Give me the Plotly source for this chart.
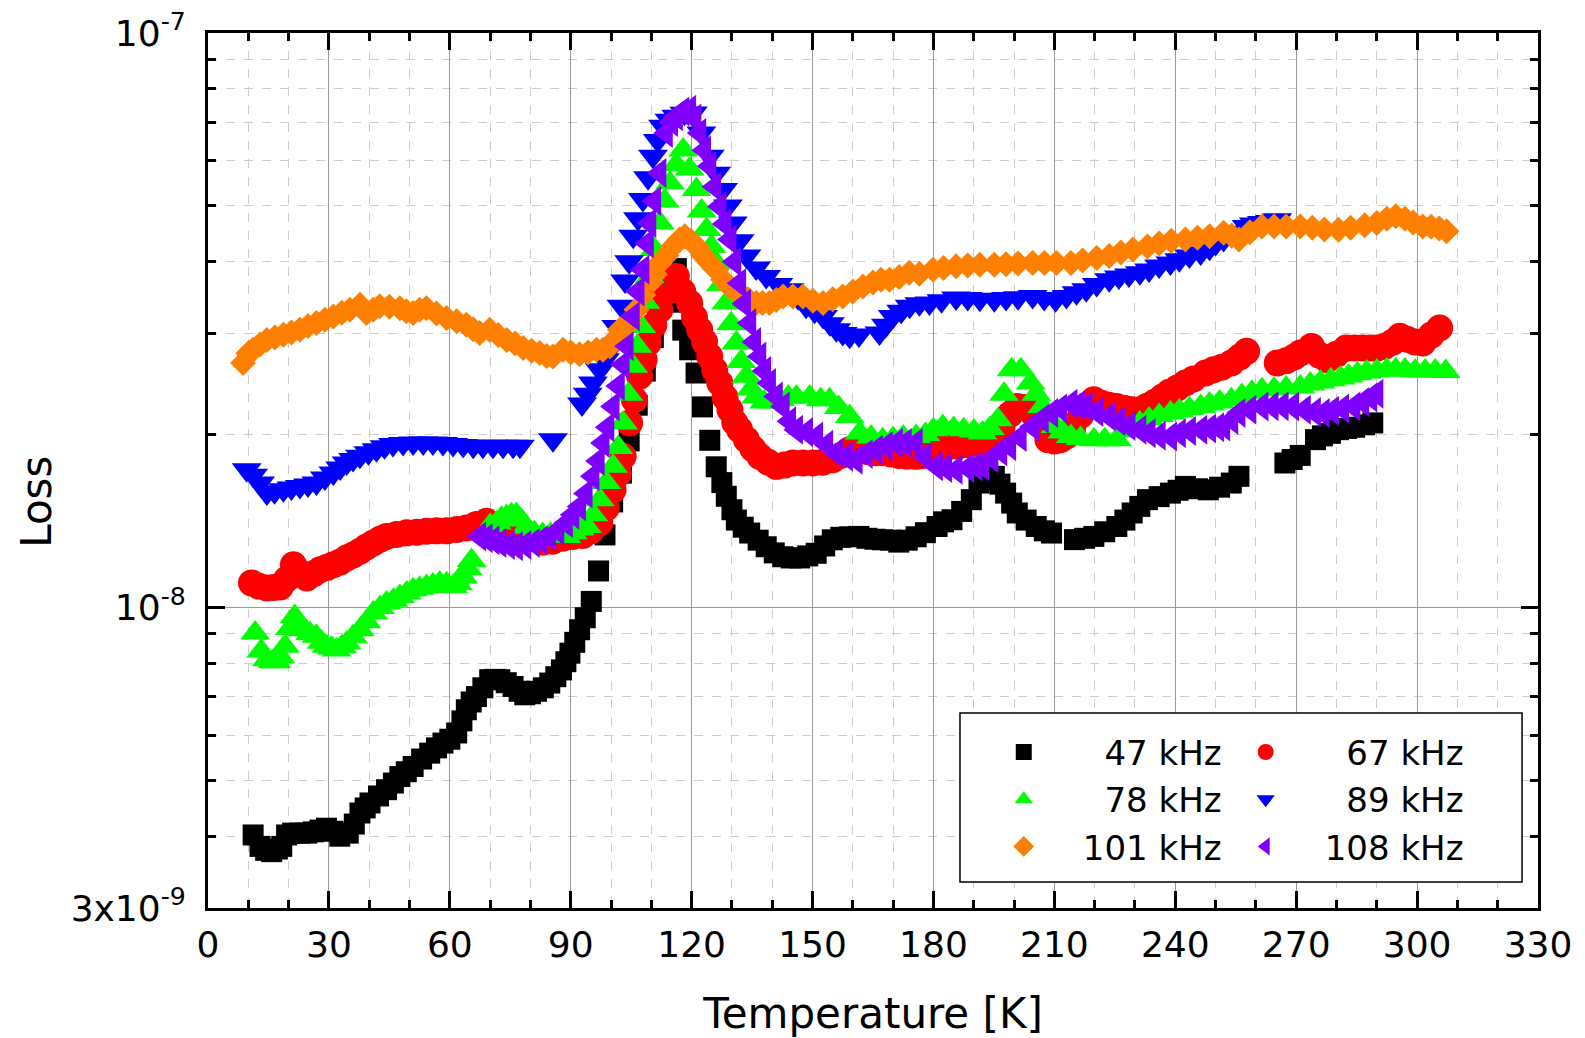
import numpy as np
import plotly.graph_objects as go

# ---------------- data (Temperature in K, Loss in units of 1e-9) ----------------
names = ["\u200747 kHz", "\u200767 kHz", "\u200778 kHz", "\u200789 kHz", "101 kHz", "108 kHz"]
colors = ["#000000", "#FF0000", "#00FF00", "#0000FF", "#FF8000", "#8000FF"]
symbols = ["square", "circle", "triangle-up", "triangle-down", "diamond", "triangle-left"]
sizes = [21, 27, 26, 26, 20, 26]
legend_cols = ["legend", "legend2", "legend", "legend2", "legend", "legend2"]

T47 = [11.2, 12.9, 14.3, 15.8, 17.2, 18.3, 19.5, 21.0, 22.8, 24.5, 26.1, 27.8, 29.4, 31.0, 32.7, 34.8,
       36.3, 37.7, 39.0, 40.2, 42.3, 44.3, 46.0, 47.6, 49.2, 50.9, 53.0, 55.0, 56.7, 58.3, 60.0, 61.7,
       63.0, 64.1, 65.3, 66.6, 68.2, 69.9, 71.2, 72.4, 74.0, 75.7, 77.2, 78.6, 80.0, 81.5, 83.2, 84.8,
       86.3, 87.7, 88.8, 89.8, 91.0, 92.2, 93.6, 95.1, 96.9, 98.5, 100.4, 102.6, 104.5, 106.5, 108.5,
       110.5, 112.5, 114.5, 116.2, 117.0, 117.8, 119.5, 121.1, 122.7, 124.5, 126.1, 127.5, 128.6, 130.0,
       131.1, 132.8, 134.4, 136.5, 138.5, 140.5, 142.6, 144.7, 146.8, 148.8, 150.9, 153.0, 154.9, 157.0,
       159.2, 161.5, 163.5, 165.5, 167.4, 169.4, 171.4, 173.5, 175.7, 178.0, 180.9, 182.5, 184.6, 187.0,
       189.4, 191.3, 193.2, 195.1, 196.5, 197.9, 199.4, 200.8, 203.0, 205.5, 207.5, 209.3, 215.0, 217.5,
       219.8, 222.5, 225.5, 227.5, 229.3, 231.2, 233.1, 236.0, 238.8, 240.7, 242.5, 245.5, 248.2, 251.0,
       253.9, 255.8, 267.2, 269.0, 271.0, 274.8, 276.5, 278.5, 280.5, 282.5, 284.5, 287.0, 289.0]
L47 = [4.02, 3.84, 3.78, 3.76, 3.80, 3.84, 4.02, 4.05, 4.05, 4.05, 4.07, 4.10, 4.13, 4.08, 4.00, 4.05,
       4.20, 4.39, 4.48, 4.57, 4.70, 4.82, 4.95, 5.08, 5.18, 5.29, 5.45, 5.58, 5.70, 5.81, 5.90, 6.05,
       6.35, 6.64, 6.85, 7.00, 7.25, 7.49, 7.50, 7.49, 7.40, 7.29, 7.15, 7.05, 7.08, 7.15, 7.25, 7.39,
       7.58, 7.79, 8.05, 8.33, 8.70, 9.15, 9.60, 10.25, 11.58, 13.38, 15.27, 17.14, 19.5, 22.5, 25.8,
       29.5, 33.5, 37.0, 38.9, 34.0, 30.4, 28.1, 25.6, 22.35, 19.55, 17.58, 16.5, 15.62, 14.8,
       14.2, 13.8, 13.48, 13.1, 12.76, 12.45, 12.26, 12.2, 12.2, 12.3, 12.43, 12.8, 13.12, 13.25,
       13.28, 13.3, 13.2, 13.15, 13.12, 13.1, 13.0, 13.1, 13.28, 13.5, 13.84, 14.1, 14.22, 14.7,
       15.41, 16.47, 16.7, 16.92, 16.4, 15.82, 15.2, 14.61, 14.2, 13.84, 13.6, 13.48, 13.13, 13.2,
       13.3, 13.55, 13.84, 14.2, 14.61, 15.0, 15.41, 15.6, 15.82, 16.0, 16.25, 16.1, 16.03, 16.2,
       16.47, 16.92, 17.85, 18.1, 18.4, 19.6, 19.9, 20.1, 20.4, 20.5, 20.6, 20.8, 20.96]

T67 = [10.8, 12.5, 14.6, 16.3, 17.9, 19.5, 21.2, 22.8, 24.5, 26.2, 27.8, 29.5, 31.1, 32.8, 34.4, 36.0,
       37.7, 39.3, 41.0, 42.7, 44.3, 46.8, 49.3, 51.8, 54.2, 56.7, 59.2, 61.7, 64.1, 66.6, 69.1, 71.5,
       74.0, 76.5, 78.0, 80.5, 83.0, 85.5, 88.0, 90.5, 93.0, 95.0, 97.2, 98.8, 100.5, 101.8, 103.0,
       104.6, 105.8, 107.1, 108.2, 109.2, 110.6, 112.1, 113.8, 115.4, 116.2, 117.8, 119.5, 120.7,
       122.0, 123.2, 124.5, 125.7, 127.0, 128.3, 129.5, 130.7, 131.9, 133.6, 135.2, 136.9, 139.0,
       141.0, 143.0, 145.1, 147.6, 150.1, 152.5, 155.0, 157.0, 159.2, 161.5, 163.5, 165.5, 167.4,
       169.5, 171.5, 173.5, 175.7, 177.5, 180.0, 182.0, 184.0, 186.0, 188.5, 191.0, 193.2, 195.0,
       197.0, 199.0, 200.8, 202.7, 204.6, 206.5, 208.4, 210.0, 211.5, 213.0, 214.5, 216.5, 218.0,
       219.8, 221.5, 223.5, 225.5, 227.5, 229.3, 231.2, 233.0, 235.0, 236.8, 238.5, 240.5, 242.5,
       244.5, 247.5, 249.5, 251.5, 253.9, 256.0, 257.7, 265.3, 267.5, 269.5, 271.0, 273.8, 275.8,
       277.7, 280.0, 282.4, 284.5, 286.5, 288.5, 290.0, 292.0, 294.0, 295.7, 297.5, 299.5, 301.4,
       303.5, 305.6]
L67 = [11.04, 10.9, 10.82, 10.84, 10.86, 11.2, 11.87, 11.5, 11.26, 11.45, 11.64, 11.75, 11.87, 12.0,
       12.2, 12.35, 12.53, 12.75, 12.95, 13.15, 13.3, 13.4, 13.49, 13.52, 13.58, 13.6, 13.6, 13.68,
       13.76, 13.95, 14.13, 13.9, 13.6, 13.4, 13.35, 13.2, 13.0, 13.05, 13.2, 13.3, 13.35, 13.6, 14.04,
       14.9, 16.03, 17.1, 18.33, 20.96, 23.0, 25.27, 27.0, 28.87, 31.0, 33.0, 35.5, 37.2, 37.7, 35.5,
       33.9, 32.0, 30.45, 29.0, 27.36, 25.9, 24.59, 23.2, 22.1, 21.0, 20.4, 19.6, 18.9, 18.33, 17.9,
       17.61, 17.7, 17.85, 17.85, 17.85, 17.9, 18.09, 18.4, 18.83, 18.8, 18.7, 18.6, 18.6,
       18.5, 18.4, 18.35, 18.33, 18.4, 18.6, 18.9, 19.09, 19.1, 19.2, 19.3, 19.34, 19.6,
       20.5, 21.7, 22.39, 22.3, 21.81, 20.8, 19.6, 19.5, 19.6, 19.9, 20.4, 21.6, 22.5,
       23.0, 22.7, 22.5, 22.39, 22.2, 22.1, 22.1, 22.4, 22.8, 23.25, 23.7, 24.1, 24.59,
       25.0, 25.6, 25.94, 26.2, 26.65, 27.3, 27.92, 26.65, 26.9, 27.3, 27.74, 28.48, 27.5,
       27.0, 27.6, 28.29, 28.3, 28.3, 28.3, 28.29, 28.5, 29.0, 29.65, 29.3, 29.0, 28.87,
       29.8, 30.66]

T78 = [11.7, 13.2, 14.6, 16.0, 17.0, 18.0, 19.1, 20.3, 21.5, 22.5, 23.6, 25.3, 26.9, 28.2, 29.4, 30.7,
       31.9, 33.2, 34.4, 36.0, 37.7, 39.3, 41.0, 42.7, 44.3, 46.0, 47.6, 49.3, 50.9, 52.5, 54.2, 55.8,
       57.5, 59.2, 60.8, 62.0, 63.3, 64.4, 65.4, 70.0, 71.6, 72.8, 74.1, 75.3, 76.5, 77.7, 79.0, 81.0,
       83.0, 85.0, 87.0, 88.9, 90.5, 92.2, 94.0, 95.6, 97.2, 98.8, 100.5, 101.8, 103.0, 104.3, 105.5,
       106.5, 107.5, 108.5, 109.6, 110.8, 112.1, 113.3, 114.6, 116.2, 117.9, 119.5, 121.2, 122.5,
       123.7, 124.9, 126.1, 127.3, 128.6, 129.8, 131.1, 132.3, 133.6, 134.8, 136.0, 138.0, 140.0,
       142.0, 144.0, 146.0, 149.3, 152.0, 154.2, 156.5, 159.2, 161.7, 164.5, 167.4, 170.0, 172.5,
       175.7, 178.0, 180.0, 182.3, 185.0, 187.5, 190.0, 192.2, 194.0, 196.0, 197.5, 199.4, 201.7,
       204.1, 205.5, 207.0, 208.5, 210.3, 212.0, 214.1, 216.5, 219.8, 222.5, 225.5, 228.5, 231.2,
       233.5, 236.0, 238.8, 241.0, 243.5, 246.3, 248.5, 251.0, 253.9, 256.5, 259.0, 261.5, 264.5,
       267.5, 271.0, 273.5, 276.0, 278.6, 281.0, 283.0, 285.2, 287.5, 290.0, 292.5, 294.7, 297.0,
       299.5, 302.0, 304.5, 307.1]
L78 = [9.03, 8.4, 8.11, 8.05, 8.05, 8.2, 8.56, 9.2, 9.65, 9.4, 9.15, 9.0, 8.91, 8.7, 8.56, 8.5,
       8.44, 8.55, 8.68, 8.9, 9.15, 9.45, 9.78, 10.0, 10.18, 10.3, 10.45, 10.6, 10.74, 10.8, 10.88,
       10.95, 11.04, 11.0, 10.88, 11.0, 11.3, 11.7, 12.08, 13.9, 14.04, 14.3, 14.4, 14.5, 14.52, 14.2,
       13.8, 13.5, 13.4, 13.4, 13.3, 13.3, 13.5, 13.7, 13.84, 14.5, 15.41, 16.5, 17.61, 19.0, 20.96,
       23.5, 26.29, 28.5, 30.86, 34.0, 37.7, 42.0, 46.7, 51.0, 54.8, 59.0, 62.6, 58.0, 53.4, 49.0,
       45.5, 42.5, 39.8, 36.5, 33.9, 31.2, 28.87, 26.8, 25.27, 24.0, 23.25, 22.8, 22.8,
       23.0, 23.25, 23.25, 23.25, 23.0, 23.0, 22.3, 21.5, 20.13, 19.8, 19.6, 19.7, 19.8,
       19.85, 20.0, 20.4, 20.67, 20.5, 20.4, 20.3, 20.13, 20.5, 21.23, 23.5, 25.94, 25.94,
       24.59, 23.5, 22.39, 21.2, 20.67, 20.2, 19.85, 19.7, 19.6, 19.6, 19.6, 20.3, 20.96,
       21.3, 21.6, 21.81, 22.0, 22.2, 22.39, 22.6, 22.8, 23.0, 23.4, 23.7, 23.94, 24.0,
       24.1, 24.2, 24.5, 24.7, 24.91, 25.1, 25.3, 25.53, 25.7, 25.8, 25.9, 25.94, 25.9,
       25.8, 25.8, 25.8, 25.76]

T89 = [9.6, 11.2, 12.9, 14.6, 16.5, 18.7, 20.7, 22.8, 24.8, 26.9, 29.0, 31.1, 32.8, 34.4, 36.0, 37.7,
       39.8, 41.8, 43.8, 45.9, 48.4, 50.9, 53.4, 55.8, 58.3, 60.8, 63.3, 65.8, 68.2, 70.7, 73.2, 75.7,
       77.4, 85.6, 92.8, 94.2, 95.5, 97.2, 98.5, 99.7, 101.3, 102.6, 103.5, 104.5, 105.5, 106.7, 107.9,
       109.2, 110.4, 111.6, 112.9, 114.5, 116.2, 118.2, 120.3, 122.4, 124.5, 126.1, 127.8, 129.0,
       130.2, 131.9, 133.6, 136.0, 138.5, 141.5, 144.3, 146.4, 148.4, 150.5, 152.6, 154.3, 155.9,
       157.5, 159.2, 161.5, 166.6, 168.2, 169.9, 172.0, 174.1, 176.5, 179.0, 182.0, 185.6, 188.5,
       191.5, 195.1, 198.0, 201.0, 204.6, 207.5, 210.3, 213.0, 215.5, 217.9, 220.5, 223.6, 226.0,
       228.5, 231.2, 233.5, 236.0, 238.8, 241.0, 243.5, 246.3, 248.5, 250.0, 252.0, 254.0, 255.8,
       257.7, 259.5, 261.5, 263.5, 265.3]
L89 = [17.38, 17.0, 16.47, 15.82, 15.9, 16.03, 16.15, 16.25, 16.35, 16.47, 16.8, 17.15, 17.5, 17.85,
       18.1, 18.33, 18.6, 18.83, 19.05, 19.22, 19.3, 19.34, 19.34, 19.34, 19.3, 19.22, 19.15, 19.09,
       19.09, 19.09, 19.09, 19.09, 19.09, 19.6, 22.6, 23.5, 24.59, 25.94, 27.0, 28.1, 30.86, 33.44,
       37.0, 40.0, 44.3, 47.5, 51.3, 56.0, 61.0, 65.0, 68.8, 70.5, 71.6, 72.5, 72.6, 67.0, 61.0, 57.0,
       53.4, 50.0, 46.7, 43.5, 40.9, 39.0, 37.7, 36.5, 35.75, 34.6, 33.44, 32.8, 32.12, 31.2, 30.45,
       30.0, 29.65, 29.8, 30.05, 31.0, 32.12, 32.8, 33.44, 33.8, 33.9, 34.2, 34.57, 34.5,
       34.4, 34.34, 34.5, 34.6, 34.8, 34.5, 34.34, 34.8, 35.3, 35.75, 36.5, 37.2, 37.6,
       37.9, 38.24, 38.7, 39.3, 39.8, 40.3, 40.9, 41.43, 42.2, 43.0, 43.7, 44.4, 45.0,
       46.07, 46.5, 46.8, 47.0, 47.3]

T101 = [8.7, 10.0, 11.2, 12.9, 14.6, 16.6, 18.7, 20.7, 22.8, 24.8, 26.9, 29.0, 31.1, 33.2, 35.2, 37.7,
        39.3, 41.0, 42.6, 45.0, 47.6, 49.2, 50.9, 52.5, 54.2, 56.7, 59.2, 61.7, 64.1, 65.8, 67.4, 69.9,
        72.0, 74.1, 76.2, 78.2, 80.3, 82.3, 84.0, 85.6, 88.1, 90.0, 92.2, 94.3, 96.4, 98.0, 99.7, 101.0,
        102.2, 103.5, 104.6, 106.3, 108.0, 109.6, 110.9, 112.1, 113.8, 115.4, 117.0, 118.3, 119.8,
        121.2, 122.8, 124.5, 126.1, 127.8, 129.8, 131.9, 134.0, 136.0, 137.6, 139.3, 141.0, 142.7,
        145.1, 147.6, 150.1, 152.6, 155.0, 157.5, 160.0, 162.5, 165.0, 167.0, 169.1, 171.5, 174.0,
        176.5, 179.9, 182.5, 185.6, 188.5, 191.5, 195.1, 198.0, 201.0, 204.6, 207.5, 210.5, 214.1,
        217.0, 220.5, 223.6, 226.5, 229.5, 233.1, 236.0, 239.0, 242.5, 245.5, 248.5, 252.0, 254.0,
        255.8, 258.5, 261.5, 264.5, 267.5, 271.0, 274.0, 277.0, 280.5, 283.5, 287.0, 290.0, 292.5,
        294.7, 297.0, 299.0, 301.4, 303.5, 305.5, 307.3]
L101 = [26.65, 27.7, 28.1, 28.7, 29.22, 29.5, 29.85, 30.1, 30.45, 30.9, 31.29, 31.7, 32.12, 32.6, 33.0,
        33.65, 32.56, 33.0, 33.44, 33.4, 33.18, 32.8, 32.56, 33.0, 33.18, 32.5, 31.9, 31.5, 31.07, 30.5,
        30.05, 30.45, 29.8, 29.22, 28.8, 28.29, 28.0, 27.74, 27.4, 27.36, 28.1, 27.8, 27.6, 27.8, 28.1,
        28.1, 28.48, 29.3, 30.45, 31.0, 31.29, 33.0, 35.0, 36.7, 38.0, 39.8, 41.0, 42.5, 43.7, 44.3,
        43.5, 42.5, 41.0, 39.8, 38.7, 37.2, 36.0, 35.27, 34.4, 33.9, 33.9, 33.9, 34.3, 34.8, 34.8,
        34.8, 34.2, 33.9, 34.4, 34.8, 35.5, 36.22, 36.8, 37.2, 37.2, 37.6, 38.24, 38.1, 38.73, 39.0,
        39.25, 39.4, 39.5, 39.5, 39.6, 39.7, 39.8, 39.8, 39.8, 39.8, 40.2, 40.6, 40.9, 41.5, 42.0,
        42.5, 43.0, 43.5, 43.7, 44.0, 44.3, 44.9, 44.4, 43.7, 45.0, 46.07, 46.07, 46.07, 46.07,
        45.8, 45.5, 45.46, 45.8, 46.3, 46.7, 47.5, 48.0, 47.5, 46.8, 46.07, 46.0, 45.7, 45.2]

T108 = [67.4, 69.0, 70.7, 72.4, 74.5, 76.5, 78.6, 80.7, 82.7, 84.8, 86.8, 88.9, 90.5, 92.2, 93.8, 95.5,
        96.8, 98.0, 99.2, 100.5, 101.8, 103.0, 104.0, 105.5, 106.7, 107.9, 109.0, 109.6, 110.8, 112.1,
        113.7, 115.0, 116.2, 117.8, 119.5, 120.8, 122.0, 123.2, 124.5, 125.7, 127.0, 128.2, 129.5,
        130.7, 131.9, 133.1, 134.4, 135.6, 136.9, 138.1, 139.3, 141.0, 142.7, 144.3, 146.0, 148.5,
        151.0, 153.5, 155.9, 158.4, 160.8, 163.3, 165.8, 168.3, 170.8, 173.0, 175.7, 178.0, 180.7,
        183.0, 185.6, 188.5, 190.5, 192.2, 194.5, 196.7, 198.9, 201.5, 204.6, 207.0, 209.3, 211.5,
        214.1, 216.0, 217.9, 220.5, 223.6, 226.0, 228.5, 231.2, 233.5, 236.0, 238.8, 241.0, 243.5,
        246.3, 248.5, 250.5, 252.0, 254.0, 255.8, 258.5, 261.5, 264.0, 266.5, 269.1, 272.0, 274.5,
        276.7, 279.0, 281.5, 284.3, 286.5, 288.5, 290.0]
L108 = [13.3, 13.2, 13.1, 12.95, 12.85, 12.78, 12.85, 12.95, 13.1, 13.3, 13.6, 14.04, 14.5, 15.0, 15.8,
        16.92, 18.0, 19.34, 20.6, 22.39, 24.3, 26.5, 28.5, 32.12, 35.5, 38.73, 43.0, 46.7, 51.0, 57.05,
        67.0, 70.0, 71.6, 73.0, 73.5, 71.0, 67.0, 62.5, 58.6, 54.0, 49.9, 46.5, 43.7, 40.0, 36.7, 33.8,
        31.29, 29.0, 27.36, 25.8, 24.59, 23.3, 22.39, 21.1, 20.4, 20.2, 19.85, 19.2, 18.58, 18.3,
        18.09, 18.5, 18.83, 19.1, 19.34, 19.34, 19.34, 18.3, 17.61, 17.5, 17.38, 17.5, 17.61, 17.61,
        18.2, 18.7, 19.09, 19.8, 20.67, 21.3, 21.81, 22.2, 22.64, 22.5, 22.39, 21.9, 21.5, 21.1, 20.7,
        20.4, 20.1, 19.9, 19.85, 20.1, 20.3, 20.4, 20.5, 20.6, 20.67, 21.2, 21.81, 22.1, 22.39, 22.4,
        22.4, 22.39, 22.1, 21.9, 21.81, 22.0, 22.2, 22.39, 22.8, 23.2, 23.56]

temps = [T47, T67, T78, T89, T101, T108]
losses = [L47, L67, L78, L89, L101, L108]

x_ticks = list(range(0, 331, 30))
y_tickvals = [3e-9, 1e-8, 1e-7]
y_ticktext = ["3x10<sup>-9</sup>", "10<sup>-8</sup>", "10<sup>-7</sup>"]
y_minor = [4e-9, 5e-9, 6e-9, 7e-9, 8e-9, 9e-9, 2e-8, 3e-8, 4e-8, 5e-8, 6e-8, 7e-8, 8e-8, 9e-8]

# ---------------- figure ----------------
fig = go.Figure()
for name, col, sym, sz, t, l, lg in zip(names, colors, symbols, sizes, temps, losses, legend_cols):
    fig.add_trace(go.Scatter(
        x=t, y=np.array(l) * 1e-9, mode="markers", name=name, legend=lg,
        marker=dict(symbol=sym, color=col, size=sz, line=dict(width=0)),
    ))

FONT = "DejaVu Sans"
axis_common = dict(
    showline=True, linecolor="black", linewidth=3, mirror="allticks",
    ticks="inside", ticklen=17, tickwidth=3, tickcolor="black",
    showgrid=True, gridcolor="#9a9a9a", gridwidth=1,
    zeroline=False, automargin=False, ticklabeloverflow="allow",
    tickfont=dict(family=FONT, size=36, color="black"),
)

fig.update_xaxes(
    range=[0, 330], tickmode="array", tickvals=x_ticks, ticklabelstandoff=3,
    title=dict(text="Temperature [K]", font=dict(family=FONT, size=42, color="black"), standoff=38),
    minor=dict(dtick=10, tick0=0, ticks="inside", ticklen=8, tickwidth=3, tickcolor="black",
               showgrid=True, gridcolor="#cccccc", griddash="dash", gridwidth=1),
    **axis_common,
)
fig.update_yaxes(
    type="log", range=[np.log10(3e-9), -7], tickmode="array",
    tickvals=y_tickvals, ticktext=y_ticktext, ticklabelstandoff=12,
    minor=dict(tickmode="array", tickvals=y_minor, ticks="inside", ticklen=8, tickwidth=3,
               tickcolor="black", showgrid=True, gridcolor="#cccccc", griddash="dash", gridwidth=1),
    **axis_common,
)

# y-axis title
fig.add_annotation(text="Loss", xref="paper", yref="paper", x=-0.1295, y=0.464,
                   xanchor="center", yanchor="middle",
                   textangle=-90, showarrow=False,
                   font=dict(family=FONT, size=42, color="black"))

# legend frame
fig.add_shape(type="rect", xref="paper", yref="paper",
              x0=0.5654, x1=0.988, y0=0.0297, y1=0.2229,
              line=dict(color="black", width=1.5), fillcolor="white", layer="above")

legend_style = dict(orientation="v", xanchor="left", yanchor="top",
                    bgcolor="rgba(0,0,0,0)", borderwidth=0,
                    font=dict(family=FONT, size=34, color="black"),
                    itemwidth=108, tracegroupgap=0, traceorder="normal")

# the page body has an 8 px margin, so the figure is 8 px smaller than the window
fig.update_layout(
    width=1577, height=1030, autosize=False,
    margin=dict(l=200, r=47, t=25, b=130),
    paper_bgcolor="white", plot_bgcolor="white",
    font=dict(family=FONT, color="black"),
    legend=dict(x=0.569, y=0.211, **legend_style),
    legend2=dict(x=0.7509, y=0.211, **legend_style),
    showlegend=True,
)

fig.write_html("out.html")
